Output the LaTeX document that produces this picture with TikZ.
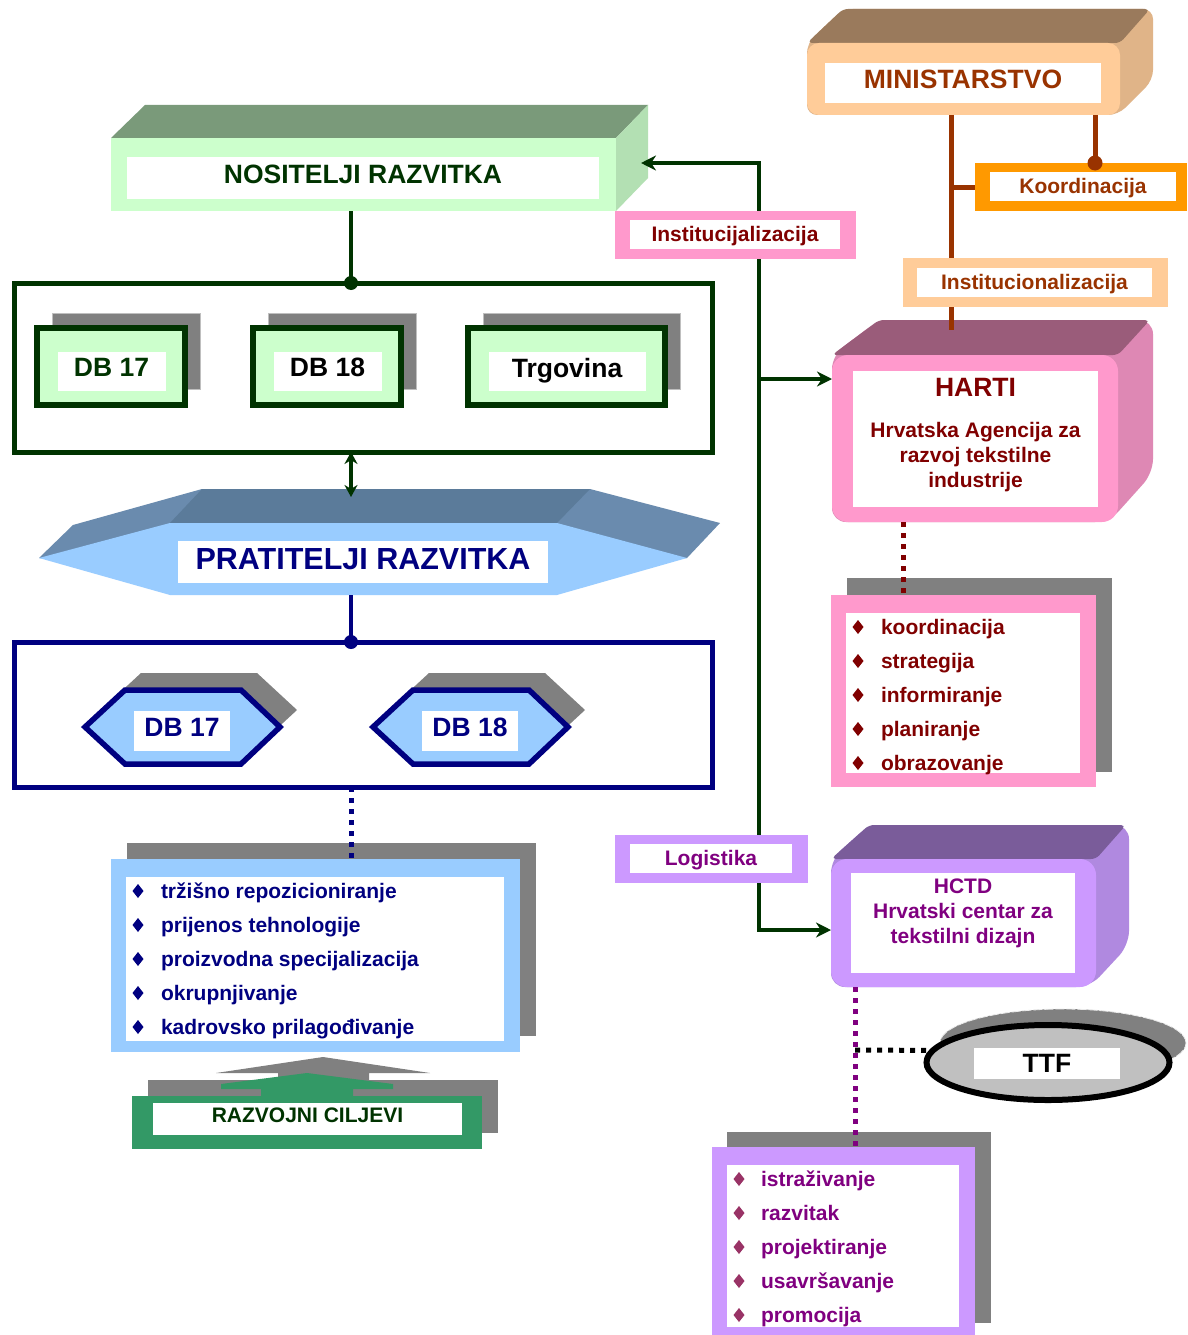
\documentclass[tikz,border=0pt]{standalone}
\usepackage{fontspec}
\setmainfont{Liberation Sans}
\usetikzlibrary{arrows.meta,shapes.geometric}

\definecolor{dkgreen}{HTML}{003300}
\definecolor{ltgreen}{HTML}{CCFFCC}
\definecolor{nostop}{HTML}{7A9A7A}
\definecolor{nosside}{HTML}{B3E0B3}
\definecolor{peach}{HTML}{FFCC99}
\definecolor{minitop}{HTML}{9A7A5C}
\definecolor{miniside}{HTML}{E0B488}
\definecolor{rust}{HTML}{993300}
\definecolor{koordor}{HTML}{FF9900}
\definecolor{hpink}{HTML}{FF99CC}
\definecolor{hartitop}{HTML}{9A5C7A}
\definecolor{hartiside}{HTML}{DE88B4}
\definecolor{maroon}{HTML}{800000}
\definecolor{lilac}{HTML}{CC99FF}
\definecolor{hctdtop}{HTML}{7A5C9A}
\definecolor{hctdside}{HTML}{B089E0}
\definecolor{plum}{HTML}{800080}
\definecolor{plumdot}{HTML}{993366}
\definecolor{skyblue}{HTML}{99CCFF}
\definecolor{prattop}{HTML}{5B7B9A}
\definecolor{pratside}{HTML}{6A8BAE}
\definecolor{navy}{HTML}{000080}
\definecolor{shadowgray}{HTML}{808080}
\definecolor{goalgreen}{HTML}{339966}
\definecolor{ttfgray}{HTML}{C0C0C0}

\begin{document}
\begin{tikzpicture}[x=1pt,y=-1pt,
	every node/.style={inner sep=0pt,outer sep=0pt},
	bigtxt/.style={font=\bfseries\fontsize{26.5}{30}\selectfont},
	midtxt/.style={font=\bfseries\fontsize{21}{25}\selectfont},
	pratfont/.style={font=\bfseries\fontsize{30.5}{34}\selectfont},
	capsup/.style={text depth=8pt},
	lowtxt/.style={text height=19pt, text depth=4.5pt},
	itemtxt/.style={midtxt, anchor=west, lowtxt},
	gline/.style={draw=dkgreen, line width=4.5pt},
	nline/.style={draw=navy, line width=4.5pt},
	bline/.style={draw=rust, line width=5pt},
	dotline/.style={line width=5pt, dash pattern=on 5pt off 6pt},
	arrowtip/.style={{Stealth[length=15pt,width=15pt]}-{Stealth[length=15pt,width=15pt]}}]
	\pgfmathsetmacro{\rowh}{34}
	\useasboundingbox (0,0) rectangle (1187,1335);
	\fill[white] (0,0) rectangle (1187,1335);

	% NOSITELJI RAZVITKA
	\fill[nostop] (111,138) -- (145,105) -- (648,105) -- (616,138) -- cycle;
	\fill[nosside] (616,138) -- (648,105) -- (648,178) -- (616,211) -- cycle;
	\node[fill=ltgreen, minimum width=505pt, minimum height=73pt] (nos) at (363.5,174.5) {};
	\node[bigtxt, capsup, fill=white, text=dkgreen, minimum width=472pt, minimum height=42pt] (nostxt) at (363,178) {NOSITELJI RAZVITKA};

	\node[draw=dkgreen, line width=5pt, minimum width=698pt, minimum height=169pt] (nosgrp) at (363,367.5) {};
	\foreach \xa/\bw/\txt/\col/\nm in {37/148/DB 17/dkgreen/dba, 253/148/DB 18/black/dbb, 468/197/Trgovina/black/trg} {
		\fill[shadowgray, draw=lightgray, line width=1pt] (\xa+15,313) rectangle +(\bw,76);
		\node[draw=dkgreen, line width=6pt, fill=ltgreen, minimum width=\bw pt, minimum height=77pt, anchor=north west] (\nm) at (\xa,328) {};
		\node[bigtxt, capsup, fill=white, text=\col, minimum width={(\bw-40)*1pt}, minimum height=39pt] (\nm txt) at ({\xa+\bw/2+0.5},371.5) {\txt};
	}

	% PRATITELJI RAZVITKA
	\fill[pratside] (39,558) -- (73,525) -- (202,489) -- (590,489) -- (720,523) -- (687,558) -- cycle;
	\fill[prattop] (170,523) -- (202,489) -- (590,489) -- (557,523) -- cycle;
	\fill[skyblue] (39,558) -- (170,523) -- (557,523) -- (687,558) -- (557,595) -- (170,595) -- cycle;
	\node[pratfont, text depth=5pt, fill=white, text=navy, minimum width=370pt, minimum height=42pt] (prat) at (363,562) {PRATITELJI RAZVITKA};

	\node[draw=navy, line width=5pt, minimum width=698pt, minimum height=145pt] (pratgrp) at (363,714.5) {};
	\foreach \dx/\txt/\nm in {0/DB 17/hxa, 288/DB 18/hxb} {
		\begin{scope}[shift={(\dx,0)}]
			\fill[shadowgray] (101,710) -- (141,673) -- (257,673) -- (297,710) -- (257,747) -- (141,747) -- cycle;
			\draw[navy, line width=5.5pt, fill=skyblue] (85,727) -- (125,690) -- (241,690) -- (280,727) -- (241,764) -- (125,764) -- cycle;
			\node[bigtxt, capsup, fill=white, text=navy, minimum width=96pt, minimum height=40pt] (\nm) at (182,731) {\txt};
		\end{scope}
	}

	% goals list
	\fill[shadowgray] (127,843) rectangle (536,1036);
	\node[fill=skyblue, minimum width=409pt, minimum height=193pt] (goals) at (315.5,955.5) {};
	\fill[white] (126,877) rectangle (504,1041);
	\foreach \txt [count=\i from 0] in {tržišno repozicioniranje, prijenos tehnologije, proizvodna specijalizacija, okrupnjivanje, kadrovsko prilagođivanje} {
		\fill[navy] (138,{891+\rowh*\i}) +(0,-7) -- +(5.5,0) -- +(0,7) -- +(-5.5,0) -- cycle;
		\node[itemtxt, text=navy] (gl\i) at (161,{891+\rowh*\i}) {\txt};
	}

	% RAZVOJNI CILJEVI
	\fill[shadowgray] (216,1073) -- (323,1057) -- (430,1073) -- (369,1073) -- (369,1080) -- (278,1080) -- (278,1073) -- cycle;
	\fill[shadowgray] (148,1080) rectangle (498,1133);
	\fill[goalgreen] (221,1089) -- (221,1084) -- (307,1073) -- (393,1084) -- (393,1089) -- (353,1089) -- (353,1096) -- (261,1096) -- (261,1089) -- cycle;
	\node[fill=goalgreen, minimum width=350pt, minimum height=53pt] (goalbase) at (307,1122.5) {};
	\node[midtxt, capsup, fill=white, text=dkgreen, minimum width=309pt, minimum height=32pt] (goaltxt) at (307.5,1119) {RAZVOJNI CILJEVI};

	% MINISTARSTVO
	\fill[miniside, rounded corners=10pt] (807,43) -- (843,9) -- (1153,9) -- (1153,80) -- (1118,115) -- (807,115) -- cycle;
	\fill[minitop, rounded corners=5pt] (807,43) -- (843,9) -- (1150,9) -- (1120,43) -- cycle;
	\node[fill=peach, rounded corners=12pt, minimum width=313pt, minimum height=72pt] (mini) at (963.5,79) {};
	\node[bigtxt, capsup, fill=white, text=rust, minimum width=276pt, minimum height=40pt] (minitxt) at (963,83) {MINISTARSTVO};

	\node[fill=koordor, minimum width=212pt, minimum height=48pt] (koord) at (1081,187) {};
	\node[midtxt, lowtxt, fill=white, text=rust, minimum width=186pt, minimum height=29pt] (koordtxt) at (1083,186.5) {Koordinacija};

	% HARTI
	\fill[hartiside, rounded corners=14pt] (832,355) -- (879,320) -- (1153,320) -- (1153,473) -- (1109,522) -- (832,522) -- cycle;
	\fill[hartitop, rounded corners=5pt] (832,355) -- (879,320) -- (1150,320) -- (1118,355) -- cycle;
	\node[fill=hpink, rounded corners=16pt, minimum width=286pt, minimum height=167pt] (harti) at (975,438.5) {};
	\node[fill=white, minimum width=245pt, minimum height=136pt] (hartiw) at (975.5,439) {};
	\node[bigtxt, text=maroon] (hartiname) at (975.5,387.5) {HARTI};
	\node[midtxt, text=maroon, align=center] (hartifull) at (975.5,457) {Hrvatska Agencija za\\razvoj tekstilne\\industrije};

	\fill[shadowgray] (847,578) rectangle (1112,772);
	\node[fill=hpink, minimum width=265pt, minimum height=192pt] (tasks) at (963.5,691) {};
	\fill[white] (846,613) rectangle (1080,773);
	\foreach \txt [count=\i from 0] in {koordinacija, strategija, informiranje, planiranje, obrazovanje} {
		\fill[maroon] (858,{627+\rowh*\i}) +(0,-7) -- +(5.5,0) -- +(0,7) -- +(-5.5,0) -- cycle;
		\node[itemtxt, text=maroon] (tl\i) at (881,{627+\rowh*\i}) {\txt};
	}

	% HCTD
	\fill[hctdside, rounded corners=14pt] (831,859) -- (869,825) -- (1129,825) -- (1129,945) -- (1090,987) -- (831,987) -- cycle;
	\fill[hctdtop, rounded corners=5pt] (831,859) -- (869,825) -- (1126,825) -- (1096,859) -- cycle;
	\node[fill=lilac, rounded corners=16pt, minimum width=265pt, minimum height=128pt] (hctd) at (963.5,923) {};
	\node[fill=white, minimum width=224pt, minimum height=100pt] (hctdw) at (963,923) {};
	\node[midtxt, text=plum, align=center] (hctdtxt) at (963,913) {HCTD\\Hrvatski centar za\\tekstilni dizajn};

	% TTF
	\draw[fill=shadowgray, draw=white!85!gray, line width=0.8pt, dash pattern=on 9pt off 2pt] (1063,1043) ellipse [x radius=123pt, y radius=34pt];
	\node[ellipse, draw=black, line width=6pt, fill=ttfgray, minimum width=243pt, minimum height=75pt] (ttf) at (1048,1062.5) {};
	\node[bigtxt, fill=white, minimum width=146pt, minimum height=31pt] (ttftxt) at (1047,1063.5) {TTF};

	\fill[shadowgray] (727,1132) rectangle (991,1323);
	\node[fill=lilac, minimum width=263pt, minimum height=188pt] (design) at (843.5,1241) {};
	\fill[white] (727,1165) rectangle (959,1327);
	\foreach \txt [count=\i from 0] in {istraživanje, razvitak, projektiranje, usavršavanje, promocija} {
		\fill[plumdot] (739,{1179+\rowh*\i}) +(0,-7) -- +(5.5,0) -- +(0,7) -- +(-5.5,0) -- cycle;
		\node[itemtxt, text=plum] (dl\i) at (761,{1179+\rowh*\i}) {\txt};
	}

	% connectors
	\coordinate (nj) at (351,283);
	\coordinate (pj) at (351,497);
	\coordinate (pb) at (351,595);
	\draw[gline] (nos.south -| nj) -- (nj);
	\fill[dkgreen] (nj) circle (7pt);
	\draw[gline, line width=3.5pt, {Stealth[length=12pt,width=13pt]}-{Stealth[length=12pt,width=13pt]}] (nosgrp.south -| nj) -- (pj);
	\draw[nline] (pb) -- (pratgrp.north -| pb);
	\fill[navy] (pratgrp.north -| pb) circle (7pt);
	\draw[navy, dotline] (pratgrp.south -| pb) -- (goals.north -| pb);

	\coordinate (tTop) at (759,163);
	\coordinate (tHarti) at (759,379);
	\coordinate (tBot) at (759,930);
	\coordinate (nosIn) at (641,163);
	\draw[gline, arrowtip] (nosIn) -- (tTop) -- (tBot) -- (tBot -| hctd.west);
	\draw[gline, -{Stealth[length=15pt,width=15pt]}] (tHarti) -- (tHarti -| harti.west);

	\coordinate (bj) at (951,187);
	\coordinate (bEnd) at (951,330);
	\coordinate (kd) at (1095,163);
	\draw[bline] (mini.south -| bj) -- (bEnd);
	\draw[bline] (bj) -- (koord.west);
	\draw[bline] (mini.south -| kd) -- (kd);
	\fill[rust] (kd) circle (7.5pt);

	\coordinate (hd) at (903,522);
	\coordinate (pd) at (855,1050);
	\draw[maroon, dotline] (harti.south -| hd) -- (tasks.north -| hd);
	\draw[plum, dotline] (hctd.south -| pd) -- (design.north -| pd);
	\draw[black, dotline] (pd) -- (ttf.174);

	% labels on the lines
	\node[fill=hpink, minimum width=241pt, minimum height=48pt] (instj) at (735.5,235) {};
	\node[midtxt, lowtxt, fill=white, text=maroon, minimum width=210pt, minimum height=29pt] (instjtxt) at (735,234.5) {Institucijalizacija};
	\node[fill=lilac, minimum width=193pt, minimum height=48pt] (logi) at (711.5,859) {};
	\node[midtxt, lowtxt, fill=white, text=plum, minimum width=162pt, minimum height=29pt] (logitxt) at (711,858.5) {Logistika};
	\node[fill=peach, minimum width=265pt, minimum height=49pt] (instn) at (1035.5,282.5) {};
	\node[midtxt, lowtxt, fill=white, text=rust, minimum width=235pt, minimum height=29pt] (instntxt) at (1034.5,282.5) {Institucionalizacija};
\end{tikzpicture}
\end{document}
